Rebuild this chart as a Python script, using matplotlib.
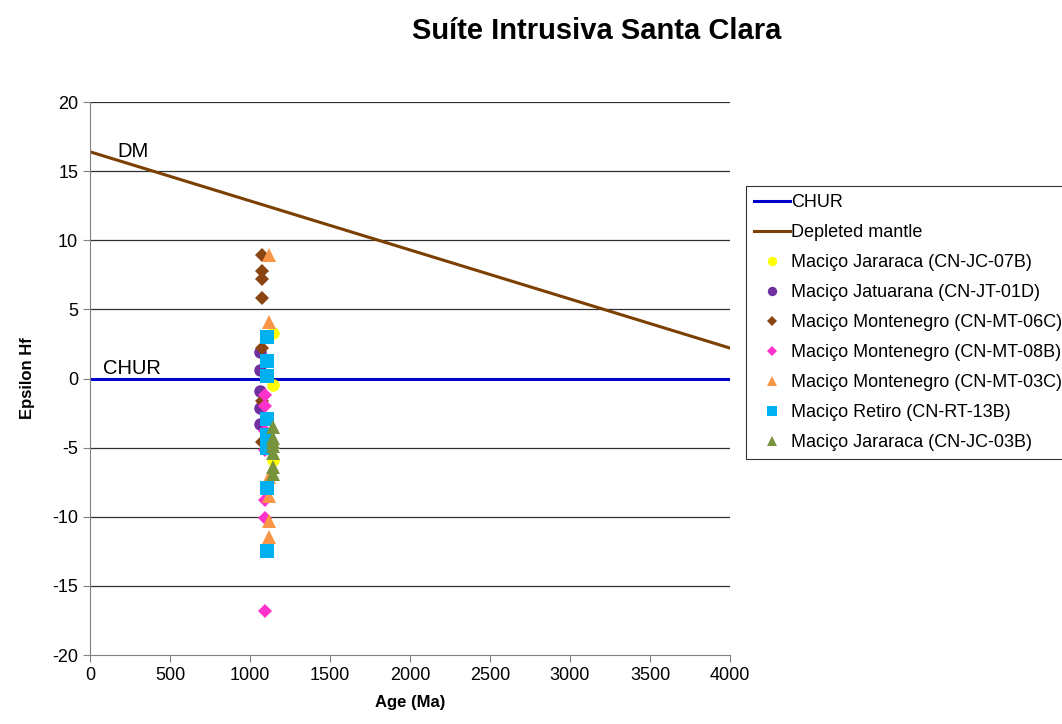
import matplotlib
matplotlib.use("Agg")
import matplotlib.pyplot as plt
from matplotlib.lines import Line2D

plt.rcParams['font.family'] = ['Liberation Sans', 'DejaVu Sans']
plt.rcParams['axes.unicode_minus'] = False

# Reference curves
chur_age = [0, 4000]
chur_eps = [0, 0]
dm_age = [0, 4000]
dm_eps = [16.4, 2.2]

# Samples: ages (Ma) and epsilon Hf values
jc07b_age = [1145, 1145, 1145]
jc07b_eps = [3.3, -0.5, -5.9]

jt01d_age = [1065, 1065, 1065, 1065, 1065]
jt01d_eps = [1.9, 0.6, -0.9, -2.1, -3.3]

mt06c_age = [1075, 1075, 1075, 1075, 1075, 1075, 1075]
mt06c_eps = [8.9, 7.8, 7.2, 5.8, 2.2, -1.6, -4.6]

mt08b_age = [1095, 1095, 1095, 1095, 1095, 1095, 1095]
mt08b_eps = [-1.2, -2.0, -3.8, -8.8, -10.1, -16.8, -5.2]

mt03c_age = [1120, 1120, 1120, 1120, 1120, 1120]
mt03c_eps = [8.9, 4.1, -7.1, -8.5, -10.3, -11.5]

rt13b_age = [1105, 1105, 1105, 1105, 1105, 1105, 1105, 1105]
rt13b_eps = [3.0, 1.3, 0.2, -2.9, -4.1, -5.0, -7.9, -12.5]

jc03b_age = [1145, 1145, 1145, 1145, 1145, 1145, 1145]
jc03b_eps = [-3.5, -4.3, -4.9, -5.4, -6.4, -6.9, -4.6]

series = [
    ("Maciço Jararaca (CN-JC-07B)", jc07b_age, jc07b_eps, 'o', '#FFFF00', 9),
    ("Maciço Jatuarana (CN-JT-01D)", jt01d_age, jt01d_eps, 'o', '#7030A0', 9),
    ("Maciço Montenegro (CN-MT-06C)", mt06c_age, mt06c_eps, 'D', '#8B4513', 7),
    ("Maciço Montenegro (CN-MT-08B)", mt08b_age, mt08b_eps, 'D', '#FF33CC', 7),
    ("Maciço Montenegro (CN-MT-03C)", mt03c_age, mt03c_eps, '^', '#F79646', 10),
    ("Maciço Retiro (CN-RT-13B)", rt13b_age, rt13b_eps, 's', '#00B0F0', 10),
    ("Maciço Jararaca (CN-JC-03B)", jc03b_age, jc03b_eps, '^', '#77933C', 10),
]

fig = plt.figure(figsize=(10.62, 7.24), dpi=100)
ax = fig.add_axes([0.0847, 0.0953, 0.6027, 0.7638])

for y in range(-15, 21, 5):
    ax.axhline(y, color='#303030', lw=0.9, zorder=0)

ax.plot(chur_age, chur_eps, color='#0000CC', lw=2.2, zorder=2)
ax.plot(dm_age, dm_eps, color='#7B3F00', lw=2.2, zorder=2)

for label, a, e, m, c, ms in series:
    ax.plot(a, e, linestyle='none', marker=m, color=c, markersize=ms,
            markeredgewidth=0, zorder=3)

ax.text(170, 16.4, "DM", fontsize=14.5, va='center', ha='left')
ax.text(80, 0.75, "CHUR", fontsize=14.5, va='center', ha='left')

ax.set_xlim(0, 4000)
ax.set_ylim(-20, 20)
ax.set_xticks(range(0, 4001, 500))
ax.set_yticks(range(-20, 21, 5))
ax.tick_params(labelsize=13, direction='out', length=5, color='#808080')
for s in ['top', 'right']:
    ax.spines[s].set_visible(False)
for s in ['left', 'bottom']:
    ax.spines[s].set_color('#808080')

ax.set_xlabel("Age (Ma)", fontsize=12, fontweight='bold', labelpad=8)
ax.set_ylabel("Epsilon Hf", fontsize=12, fontweight='bold', labelpad=12)

fig.text(0.562, 0.957, "Suíte Intrusiva Santa Clara", fontsize=21,
         fontweight='bold', ha='center', va='center')

handles = [
    Line2D([], [], color='#0000CC', lw=2.2),
    Line2D([], [], color='#7B3F00', lw=2.2),
]
labels = ["CHUR", "Depleted mantle"]
for label, a, e, m, c, ms in series:
    handles.append(Line2D([], [], linestyle='none', marker=m, color=c,
                          markersize=ms * 0.75, markeredgewidth=0))
    labels.append(label)

leg = fig.legend(handles, labels, loc='upper left',
                 bbox_to_anchor=(0.7024, 0.743), fontsize=13,
                 frameon=True, fancybox=False, edgecolor='black',
                 borderaxespad=0, handlelength=2.0, handletextpad=0.05,
                 labelspacing=0.72, borderpad=0.45)
leg.get_frame().set_linewidth(0.8)

fig.savefig("out.png", dpi=100)
